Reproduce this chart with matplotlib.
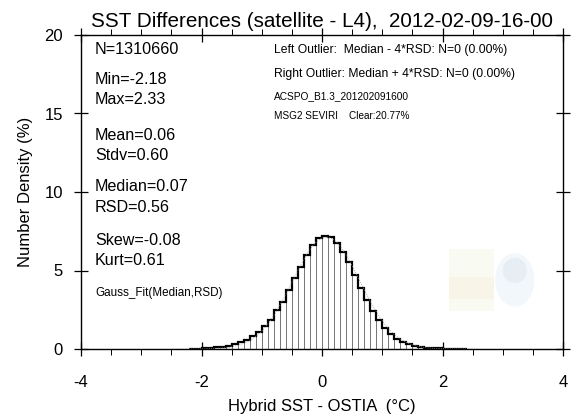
import numpy as np
import matplotlib.pyplot as plt
from matplotlib.patches import Ellipse, Rectangle

plt.rcParams['font.family'] = ['Liberation Sans', 'DejaVu Sans']
plt.rcParams['axes.unicode_minus'] = False

# histogram of SST differences, bin width 0.1 degC, number density in %
bin_left = np.round(np.arange(-2.2, 2.35, 0.1), 2)
density = [0.02, 0.03, 0.05, 0.08, 0.11, 0.15, 0.21, 0.30, 0.42, 0.57,
           0.84, 1.10, 1.47, 1.87, 2.48, 2.97, 3.76, 4.50, 5.24, 5.99,
           6.62, 7.05, 7.22, 7.15, 6.77, 6.20, 5.56, 4.71, 3.90, 3.12,
           2.44, 1.85, 1.32, 0.96, 0.66, 0.47, 0.32, 0.21, 0.13, 0.09,
           0.06, 0.04, 0.03, 0.02, 0.01, 0.005]
bin_w = 0.1

median = 0.07
rsd = 0.56

stats_left = [("N=1310660", 50), ("Min=-2.18", 80), ("Max=2.33", 100),
              ("Mean=0.06", 135), ("Stdv=0.60", 155),
              ("Median=0.07", 186), ("RSD=0.56", 207),
              ("Skew=-0.08", 240), ("Kurt=0.61", 260)]
info_right = [("Left Outlier:  Median - 4*RSD: N=0 (0.00%)", 50, 8.7),
              ("Right Outlier: Median + 4*RSD: N=0 (0.00%)", 74, 8.7),
              ("ACSPO_B1.3_201202091600", 96, 7.3),
              ("MSG2 SEVIRI    Clear:20.77%", 116, 7.2)]

W, H = 572, 415
fig = plt.figure(figsize=(W / 100, H / 100), dpi=100)
ax = fig.add_axes([81 / W, 1 - 349 / H, (563 - 81) / W, (349 - 35) / H])

# faint logos in the background
ax.add_patch(Rectangle((2.1, 2.4), 0.75, 4.0, color='#eef5dc', alpha=0.35, lw=0, zorder=0))
ax.add_patch(Rectangle((2.1, 3.2), 0.75, 1.4, color='#f8e8d6', alpha=0.35, lw=0, zorder=0))
ax.add_patch(Ellipse((3.2, 4.4), 0.65, 3.4, color='#dcebf4', alpha=0.4, lw=0, zorder=0))
ax.add_patch(Ellipse((3.2, 5.0), 0.4, 1.6, color='#cdd6e6', alpha=0.3, lw=0, zorder=0))

# bars with thin gray edges, thick step outline on top
ax.bar(bin_left, density, width=bin_w, align='edge', facecolor='white',
       edgecolor='#777777', linewidth=0.7, zorder=2)
edges = np.append(bin_left, bin_left[-1] + bin_w)
ax.stairs(density, edges, color='black', linewidth=1.6, zorder=3)

# gaussian fit from median and RSD
xg = np.linspace(-2.5, 2.6, 300)
yg = 100 * bin_w / (rsd * np.sqrt(2 * np.pi)) * np.exp(-(xg - median) ** 2 / (2 * rsd ** 2))
ax.plot(xg, yg, color='#999999', linestyle=':', linewidth=0.6, zorder=4)

ax.set_xlim(-4, 4)
ax.set_ylim(0, 20)
ax.set_xticks([-4, -2, 0, 2, 4])
ax.set_xticks(np.arange(-4, 4.01, 0.5), minor=True)
ax.set_yticks([0, 5, 10, 15, 20])
ax.tick_params(axis='both', which='major', direction='inout', length=10, width=0.9,
               labelsize=12, top=True, right=True)
ax.tick_params(axis='x', which='minor', direction='out', length=4, width=0.7,
               top=True)
ax.tick_params(axis='x', which='major', pad=14)
ax.tick_params(axis='y', which='major', pad=8)
for s in ax.spines.values():
    s.set_linewidth(1.0)

ax.set_xlabel('Hybrid SST - OSTIA  (°C)', fontsize=12, labelpad=6)
ax.set_ylabel('Number Density (%)', fontsize=12, labelpad=8)
ax.set_title('SST Differences (satellite - L4),  2012-02-09-16-00', fontsize=14.9, pad=6)

for txt, py in stats_left:
    fig.text(95 / W, 1 - py / H, txt, fontsize=11.6, va='center', ha='left')
fig.text(95 / W, 1 - 293 / H, 'Gauss_Fit(Median,RSD)', fontsize=8.4, va='center', ha='left')
for txt, py, fs in info_right:
    fig.text(274 / W, 1 - py / H, txt, fontsize=fs, va='center', ha='left')

fig.savefig('out.png', dpi=100)
